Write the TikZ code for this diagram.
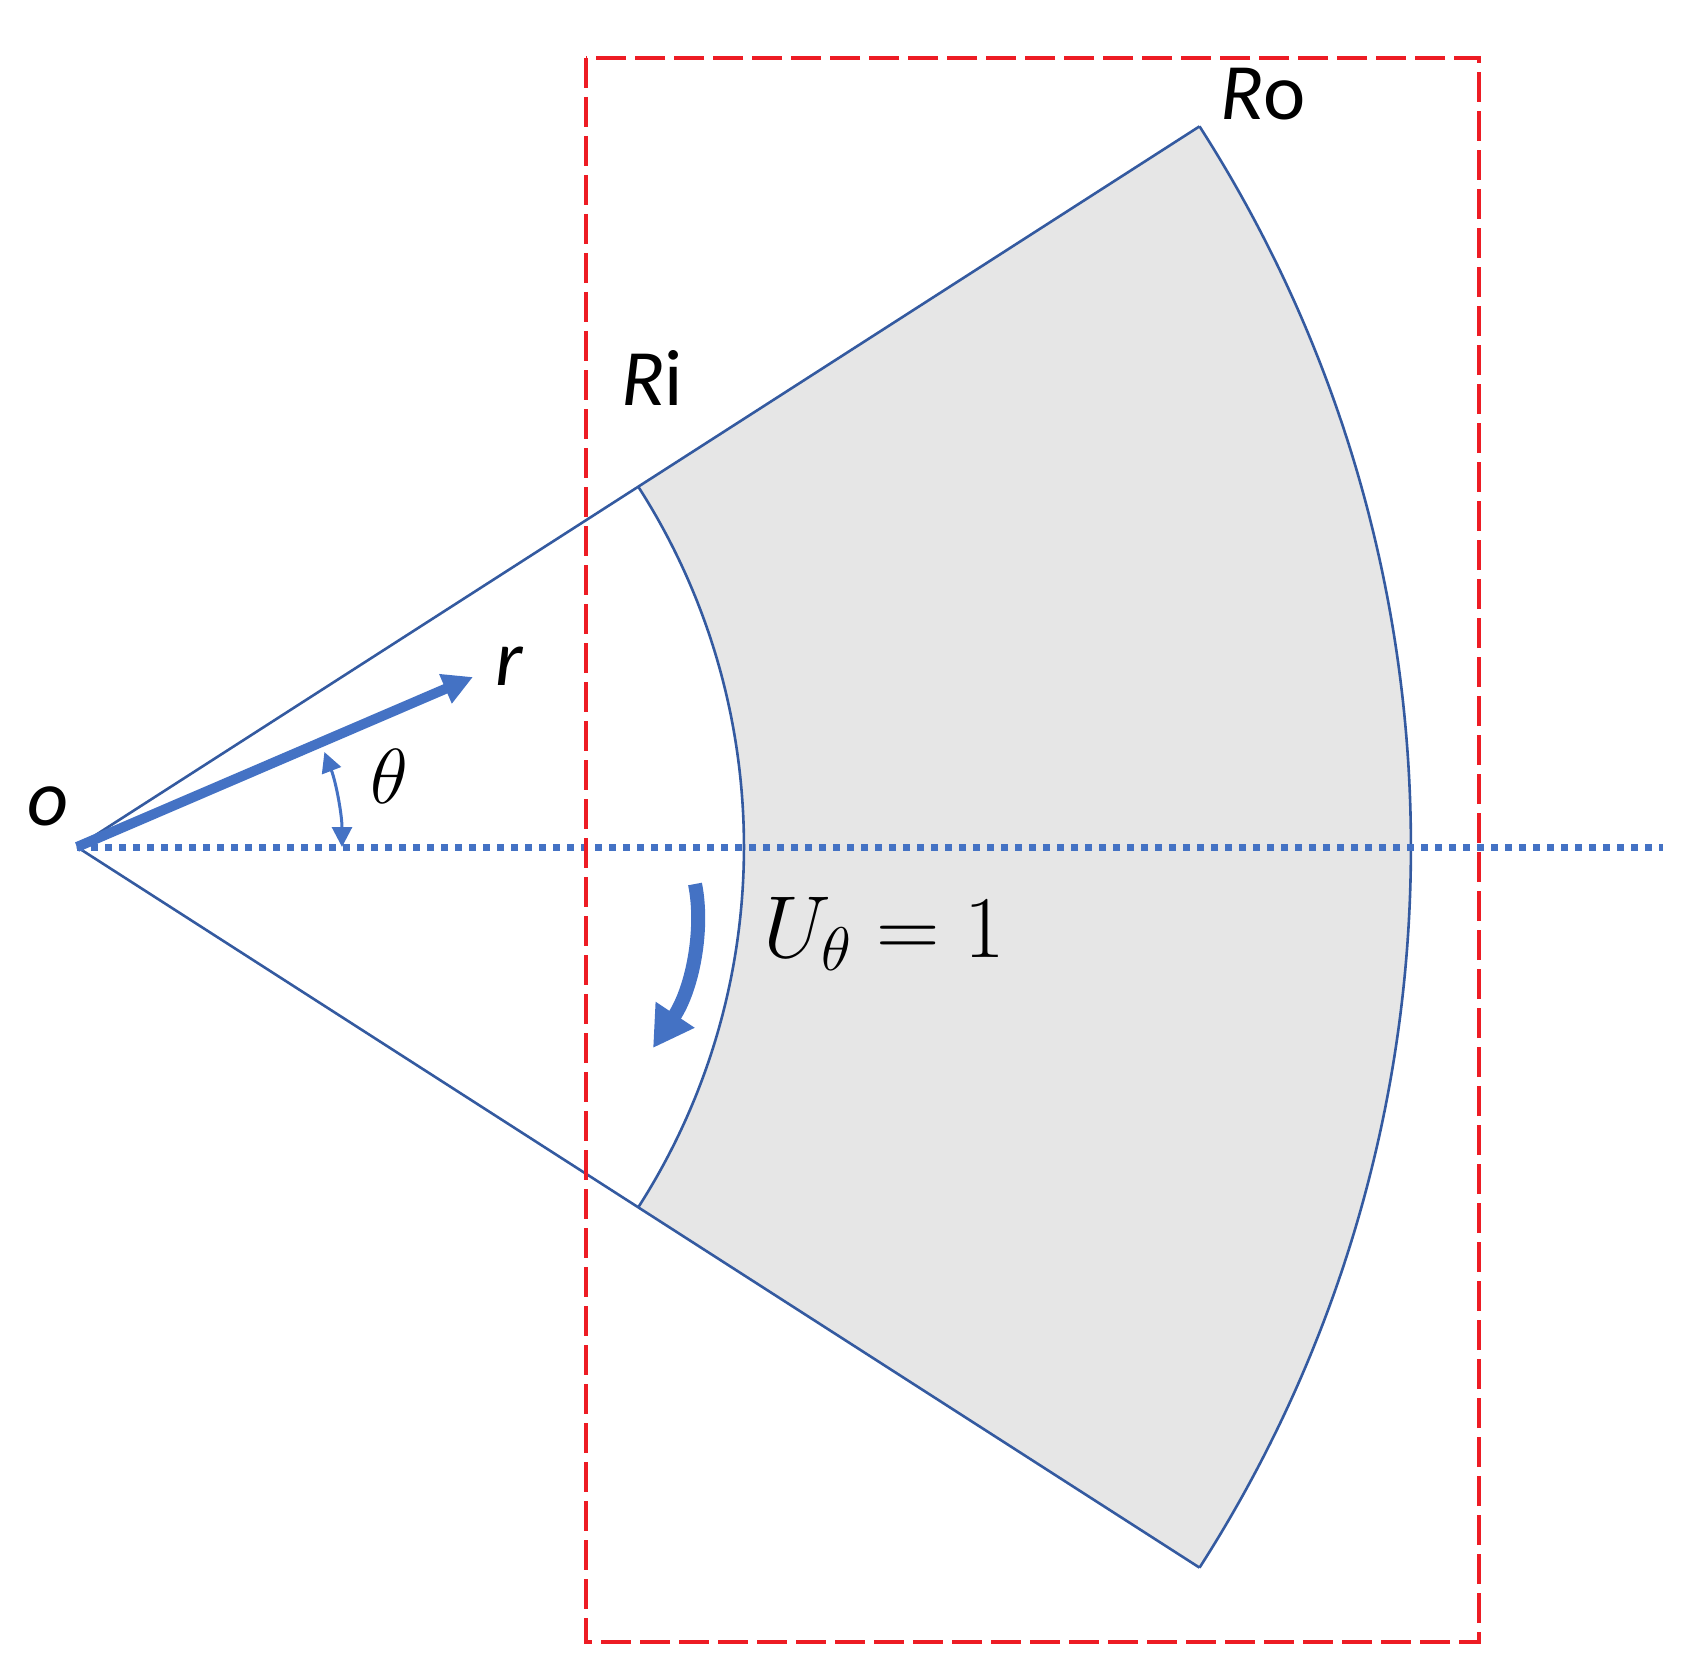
\RequirePackage{fix-cm}
\documentclass[tikz,border=0pt]{standalone}
\usepackage[no-math]{fontspec}
\newfontfamily\lblfont{Carlito}
\usetikzlibrary{arrows.meta,calc}
\definecolor{ublue}{HTML}{4472C4}
\definecolor{eblue}{RGB}{52,90,160}
\definecolor{rred}{RGB}{237,28,36}
\definecolor{sgray}{HTML}{E6E6E6}
\tikzset{
  edge/.style={draw=eblue, line width=2.6pt},
  axisline/.style={draw=ublue, line width=7pt, dash pattern=on 7pt off 7pt},
  redbox/.style={draw=rred, line width=3.3pt, dash pattern=on 30pt off 9pt},
  rarrow/.style={draw=ublue, line width=10pt, -{Triangle[length=30pt,width=30pt]}},
  tharrow/.style={draw=ublue, line width=3pt, {Triangle[length=20pt,width=20pt]}-{Triangle[length=20pt,width=20pt]}},
  uarrow/.style={draw=ublue, line width=14pt, -{Triangle[length=40pt,width=44pt]}},
  sanslbl/.style={font=\lblfont\fontsize{80}{90}\selectfont, inner sep=0pt},
  mathlbl/.style={font=\fontsize{88}{100}\selectfont, inner sep=0pt}
}
\begin{document}
\begin{tikzpicture}[x=1pt,y=-1pt]
\useasboundingbox (0,0) rectangle (1688,1677);
\def\ang{32.7}
\def\ri{667}
\def\ro{1334}
\coordinate (O) at (77,847);
\coordinate (iu) at ($(O)+(-\ang:\ri)$);
\coordinate (il) at ($(O)+(\ang:\ri)$);
\coordinate (ou) at ($(O)+(-\ang:\ro)$);
\coordinate (ol) at ($(O)+(\ang:\ro)$);
\coordinate (axend) at (1663,847);
% annulus sector fill
\fill[sgray] (iu) -- (ou) arc[start angle=-\ang, end angle=\ang, radius=\ro]
  -- (il) arc[start angle=\ang, end angle=-\ang, radius=\ri] -- cycle;
% outlines
\draw[edge] (O) -- (ou);
\draw[edge] (O) -- (ol);
\draw[edge] (iu) arc[start angle=-\ang, end angle=\ang, radius=\ri];
\draw[edge] (ou) arc[start angle=-\ang, end angle=\ang, radius=\ro];
% axis
\draw[axisline] (O) -- (axend);
% red dashed box
\coordinate (b1) at (586,58);
\coordinate (b2) at (1479,1642);
\draw[redbox] (b1) rectangle (b2);
% r arrow
\coordinate (rtip) at (473,677);
\draw[rarrow] (O) -- (rtip);
% theta arc
\coordinate (t0) at ($(O)+(0:265)$);
\draw[tharrow] (t0) arc[start angle=0, end angle=-21, radius=265];
% rotating arrow
\coordinate (u0) at (695,884);
\coordinate (u1) at (704,928);
\coordinate (u2) at (693,988);
\coordinate (u3) at (653,1048);
\draw[uarrow] (u0) .. controls (u1) and (u2) .. (u3);
% labels
\node[sanslbl, anchor=base] (lo) at (48,825) {\itshape o};
\node[sanslbl, anchor=base] (lr) at (509,685) {\itshape r};
\node[mathlbl, anchor=base, font=\fontsize{78}{90}\selectfont] (lth) at (389,803) {$\theta$};
\node[sanslbl, anchor=base west] (lri) at (621,405) {{\itshape R}i};
\node[sanslbl, anchor=base west] (lro) at (1220,120) {{\itshape R}o};
\node[mathlbl, anchor=base west] (lu) at (763,957) {$U_\theta = 1$};
\end{tikzpicture}
\end{document}
